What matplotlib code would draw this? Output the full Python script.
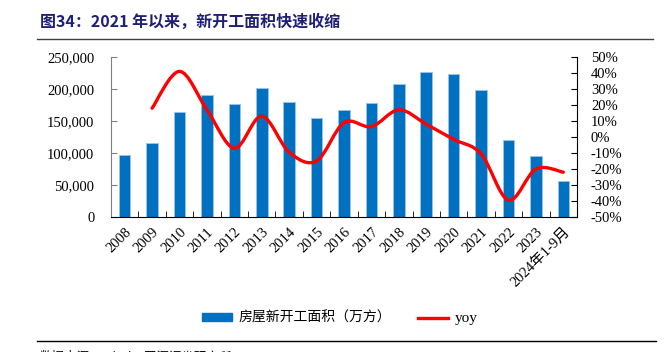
import matplotlib
matplotlib.use('Agg')
import matplotlib.pyplot as plt
from matplotlib.path import Path
from matplotlib.patches import PathPatch
from matplotlib.lines import Line2D
from matplotlib.ticker import FuncFormatter
import numpy as np

years = ['2008', '2009', '2010', '2011', '2012', '2013', '2014', '2015', '2016',
         '2017', '2018', '2019', '2020', '2021', '2022', '2023', '2024年1-9月']
area = [97500, 115000, 163600, 190000, 176800, 200800, 179300, 154000, 166500,
        178000, 208500, 226500, 224000, 198500, 120500, 95000, 56000]
# yoy starts from 2009
yoy = [18.0, 41.0, 17.0, -7.0, 13.0, -9.5, -15.0, 9.0, 6.5, 17.0, 8.0,
       -1.5, -10.5, -39.5, -20.0, -22.0]

serif = ['Liberation Serif', 'Noto Sans CJK SC']
cjk = ['Noto Sans CJK SC', 'DejaVu Sans']


def smooth_path(xs, ys):
    # excel-style smoothed line: cubic bezier through every point
    pts = np.column_stack([xs, ys])
    n = len(pts)
    verts = [pts[0]]
    codes = [Path.MOVETO]
    for i in range(n - 1):
        p0 = pts[i - 1] if i > 0 else pts[i]
        p1, p2 = pts[i], pts[i + 1]
        p3 = pts[i + 2] if i + 2 < n else pts[i + 1]
        verts += [p1 + (p2 - p0) / 6.0, p2 - (p3 - p1) / 6.0, p2]
        codes += [Path.CURVE4] * 3
    return Path(verts, codes)


fig = plt.figure(figsize=(6.66, 3.52), dpi=100)
ax = fig.add_axes([111 / 666, 1 - 217 / 352, 466 / 666, 160 / 352])
x = np.arange(len(years))
ax.bar(x, area, width=0.42, color='#0070C0', edgecolor='#9DC3E6', linewidth=0.6)
ax.set_xlim(-0.5, len(years) - 0.5)
ax.set_ylim(0, 250000)
ax.set_yticks(np.arange(0, 250001, 50000))
ax.yaxis.set_major_formatter(FuncFormatter(lambda v, p: f'{int(v):,}'))
ax.set_xticks(x)
ax.set_xticklabels(years, rotation=45, ha='right', rotation_mode='anchor',
                   family=serif, fontsize=10.5)
ax.set_xticks(np.arange(-0.5, len(years), 1), minor=True)
ax.tick_params(axis='x', which='major', length=0, pad=6)
ax.tick_params(axis='x', which='minor', direction='in', length=4, color='black')
ax.tick_params(axis='y', direction='in', length=4, color='#808080', labelsize=10.5, pad=12)
for lab in ax.get_yticklabels():
    lab.set_family(serif)
ax.spines['top'].set_visible(False)
ax.spines['right'].set_visible(False)
ax.spines['left'].set_color('#808080')
ax.spines['bottom'].set_color('black')

ax2 = ax.twinx()
ax2.set_ylim(-50, 50)
ax2.set_yticks(np.arange(-50, 51, 10))
ax2.yaxis.set_major_formatter(FuncFormatter(lambda v, p: f'{int(round(v))}%'))
ax2.tick_params(axis='y', direction='in', length=4, labelsize=10.5, pad=10)
for lab in ax2.get_yticklabels():
    lab.set_family(serif)
for s in ['top', 'left', 'bottom']:
    ax2.spines[s].set_visible(False)
ax2.add_patch(PathPatch(smooth_path(x[1:], yoy), fill=False, edgecolor='#FF0000',
                        linewidth=2.4, capstyle='round'))

handles = [plt.Rectangle((0, 0), 1, 1, color='#0070C0'),
           Line2D([0], [0], color='#FF0000', lw=2.4)]
leg = fig.legend(handles, ['房屋新开工面积（万方）', 'yoy'], loc='center',
                 bbox_to_anchor=(0.51, 1 - 318 / 352), ncol=2, frameon=False,
                 prop={'family': cjk, 'size': 10}, handlelength=2.2, handleheight=0.5,
                 handletextpad=0.45, columnspacing=1.9)
leg.get_texts()[1].set_family(serif)
leg.get_texts()[1].set_fontsize(11)

fig.text(0.06, 1 - 22 / 352, '图34：2021 年以来，新开工面积快速收缩', family=cjk,
         fontsize=11.5, fontweight='bold', color='#1F1F78', va='center')
fig.add_artist(Line2D([0.056, 0.98], [1 - 39 / 352, 1 - 39 / 352], color='#404040', lw=1))
fig.add_artist(Line2D([0.056, 0.985], [1 - 341 / 352, 1 - 341 / 352], color='black', lw=1))
fig.text(0.06, -0.015, '数据来源：Wind、开源证券研究所', family=cjk, fontsize=9, va='center')

fig.savefig('out.png', dpi=100)
